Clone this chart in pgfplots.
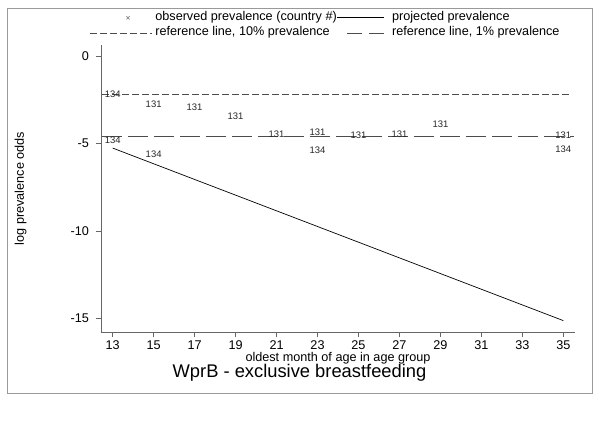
\documentclass[border=0pt]{standalone}
\usepackage{fontspec}
\setmainfont{Liberation Sans}
\usepackage{pgfplots}
\pgfplotsset{compat=1.18}
\pgfplotstableread{
x y c
13 -2.19 134
13 -4.80 134
15 -2.76 131
15 -5.64 134
17 -2.90 131
19 -3.43 131
21 -4.47 131
23 -4.36 131
23 -5.37 134
25 -4.51 131
27 -4.45 131
29 -3.90 131
35 -4.55 131
35 -5.33 134
}\observed
\begin{document}
\begin{tikzpicture}
\useasboundingbox (-101bp,-91bp) rectangle (499bp,332bp);
\draw[black!40, line width=0.8bp] (-94bp,-61bp) rectangle (491bp,324bp);
\begin{axis}[
  at={(0bp,0bp)}, anchor=south west,
  scale only axis, width=474bp, height=287bp,
  xmin=12.43, xmax=35.57, ymin=-15.77, ymax=0.63,
  axis x line*=bottom, axis y line*=left,
  axis line style={black!60, line width=0.6bp, -},
  tick align=outside, major tick length=5bp,
  tick style={black!60, line width=0.6bp},
  xtick={13,15,...,35},
  ytick={-15,-10,-5,0}, yticklabels={-15,-10,-5,0},
  font=\fontsize{12.7}{15}\selectfont,
  tick label style={font=\fontsize{12.7}{15}\selectfont},
  yticklabel style={xshift=-3.5bp},
  /pgf/number format/assume math mode=true,
  xlabel={oldest month of age in age group},
  ylabel={log prevalence odds},
  xlabel style={at={(axis description cs:0.5,-0.0925)}, anchor=center},
  ylabel style={at={(axis description cs:-0.1695,0.5)}, anchor=center},
  legend columns=2,
  legend cell align=left,
  legend style={at={(axis description cs:-0.0232,1.1220)}, anchor=north west,
    draw=none, fill=none, inner sep=0pt, outer sep=0pt,
    row sep=0pt, column sep=0pt,
    font=\fontsize{12.7}{15}\selectfont,
    nodes={inner sep=0pt, text height=10.5bp, text depth=5bp}},
  clip=false,
]
\addplot[only marks, mark=none, nodes near coords, point meta=explicit symbolic,
  nodes near coords style={anchor=center, inner sep=0pt, font=\fontsize{9.5}{10}\selectfont, text=black!85},
  legend image code/.code={\path[draw=none] (0bp,0bp) -- (65bp,0bp);
    \draw[black!55, line width=0.6bp] plot[mark=x, mark size=2.3bp] coordinates {(37.7bp,0bp)};}]
  table[x=x, y=y, meta=c] {\observed};
\addlegendentry{observed prevalence (country \#)}
\addplot[black, line width=0.7bp,
  legend image code/.code={\draw[black, line width=0.7bp] (0bp,0bp) -- (47bp,0bp); \path[draw=none] (55bp,0bp);}]
  coordinates {(13,-5.26) (35,-15.12)};
\addlegendentry{projected prevalence}
\addplot[black!70, line width=0.7bp, dash pattern=on 6.5bp off 3.5bp,
  legend image code/.code={\draw[black!70, line width=0.7bp, dash pattern=on 6.5bp off 3.5bp] (0bp,0bp) -- (62bp,0bp); \path[draw=none] (65bp,0bp);}]
  coordinates {(12.5,-2.197) (35.3,-2.197)};
\addlegendentry{reference line, 10\% prevalence}
\addplot[black!70, line width=0.7bp, dash pattern=on 20bp off 6bp,
  legend image code/.code={\path[draw=none] (0bp,0bp); \draw[black!70, line width=0.7bp, dash pattern=on 15bp off 7bp] (10bp,0bp) -- (47bp,0bp); \path[draw=none] (55bp,0bp);}]
  coordinates {(12.5,-4.595) (35.5,-4.595)};
\addlegendentry{reference line, 1\% prevalence}
\end{axis}
\node[font=\fontsize{18.4}{21}\selectfont, anchor=center] at (198.5bp,-40.7bp) {WprB - exclusive breastfeeding};
\end{tikzpicture}
\end{document}
